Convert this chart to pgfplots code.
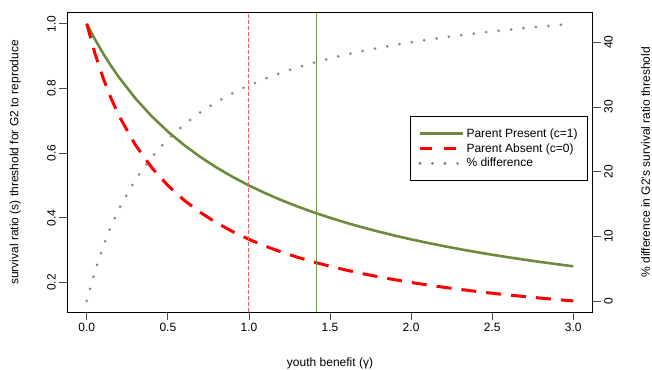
\documentclass[border=0pt]{standalone}
\usepackage{fontspec}
\setmainfont{Liberation Sans}
\usepackage{pgfplots}
\usepackage{pgfplotstable}
\pgfplotsset{compat=1.18}
\definecolor{olivegr}{HTML}{6E8B3D}
\definecolor{dotgray}{HTML}{8A8A8A}
\definecolor{vred}{HTML}{F0606A}
\definecolor{vgreen}{HTML}{6E9B3D}
\pgfplotstableread{
x pp pa pct
0.00 1.000000 1.000000 0.000
0.05 0.952381 0.909091 4.545
0.10 0.909091 0.833333 8.333
0.15 0.869565 0.769231 11.538
0.20 0.833333 0.714286 14.286
0.30 0.769231 0.625000 18.750
0.40 0.714286 0.555556 22.222
0.50 0.666667 0.500000 25.000
0.60 0.625000 0.454545 27.273
0.70 0.588235 0.416667 29.167
0.80 0.555556 0.384615 30.769
0.90 0.526316 0.357143 32.143
1.00 0.500000 0.333333 33.333
1.10 0.476190 0.312500 34.375
1.20 0.454545 0.294118 35.294
1.30 0.434783 0.277778 36.111
1.40 0.416667 0.263158 36.842
1.50 0.400000 0.250000 37.500
1.60 0.384615 0.238095 38.095
1.70 0.370370 0.227273 38.636
1.80 0.357143 0.217391 39.130
1.90 0.344828 0.208333 39.583
2.00 0.333333 0.200000 40.000
2.10 0.322581 0.192308 40.385
2.20 0.312500 0.185185 40.741
2.30 0.303030 0.178571 41.071
2.40 0.294118 0.172414 41.379
2.50 0.285714 0.166667 41.667
2.60 0.277778 0.161290 41.935
2.70 0.270270 0.156250 42.188
2.80 0.263158 0.151515 42.424
2.90 0.256410 0.147059 42.647
3.00 0.250000 0.142857 42.857
}\datatable
\begin{document}
\begin{tikzpicture}
\pgfplotsset{
  common/.style={
    scale only axis, width=525.4bp, height=299.3bp,
    xmin=-0.12, xmax=3.12,
    font=\fontsize{12bp}{14.4bp}\selectfont,
    tick align=outside, major tick length=8bp,
    tick style={color=black!70, line width=0.8bp},
    axis line style={line width=0.8bp},
    /pgf/number format/assume math mode=true,
  }
}
\begin{axis}[common,
  ymin=0.108571, ymax=1.034286,
  xtick={0,0.5,1,1.5,2,2.5,3},
  xticklabels={0.0,0.5,1.0,1.5,2.0,2.5,3.0},
  ytick={0.2,0.4,0.6,0.8,1.0},
  yticklabels={0.2,0.4,0.6,0.8,1.0},
  xtick pos=bottom, ytick pos=left,
  yticklabel style={rotate=90, anchor=south},
  xlabel={youth benefit (γ)},
  xlabel style={at={([yshift=-46bp]rel axis cs:0.5,0)}, anchor=north, inner sep=0pt},
  ylabel={survival ratio (s) threshold for G2 to reproduce},
  ylabel style={at={([xshift=-52bp]rel axis cs:0,0.5)}, anchor=center, inner sep=0pt},
]
\addplot[olivegr, line width=2.6bp] table[x=x, y=pp] {\datatable};
\addplot[red, line width=3bp, dash pattern=on 15bp off 10bp] table[x=x, y=pa] {\datatable};
\addplot[vred, line width=1bp, dash pattern=on 4bp off 2bp] coordinates {(1,0.108571) (1,1.034286)};
\addplot[vgreen, line width=1bp] coordinates {(1.414,0.108571) (1.414,1.034286)};
\end{axis}
\begin{axis}[common,
  ymin=-1.714, ymax=44.571,
  axis x line=none, axis y line*=right,
  ytick={0,10,20,30,40},
  yticklabels={0,10,20,30,40},
  yticklabel style={rotate=90, anchor=north},
  ylabel={\% difference in G2's survival ratio threshold},
  ylabel style={at={([xshift=53bp]rel axis cs:1,0.5)}, anchor=center, inner sep=0pt},
  legend style={at={(rel axis cs:0.991,0.655)}, anchor=north east, draw=black, line width=0.8bp, fill=white,
    font=\fontsize{12bp}{14.4bp}\selectfont, row sep=0.8bp, inner xsep=8bp, inner ysep=10bp},
  legend cell align=left,
  legend image code/.code={\draw[#1] (0bp,0bp) -- (36bp,0bp); \path (0bp,0bp) -- (43bp,0bp);},
]
\addlegendimage{olivegr, line width=2.6bp}
\addlegendentry{Parent Present (c=1)}
\addlegendimage{red, line width=3bp, dash pattern=on 12bp off 12bp}
\addlegendentry{Parent Absent (c=0)}
\addplot[dotgray, line width=3bp, line cap=round, dash pattern=on 0bp off 12.5bp] table[x=x, y=pct] {\datatable};
\addlegendentry{\% difference}
\end{axis}
\pgfresetboundingbox
\useasboundingbox (-67.3bp,-58bp) rectangle (584.7bp,312bp);
\end{tikzpicture}
\end{document}
